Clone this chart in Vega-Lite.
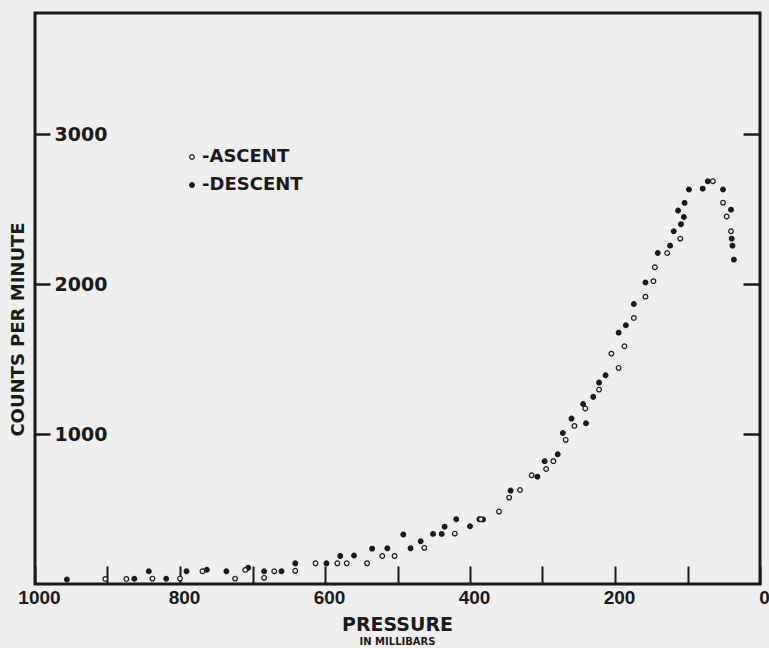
{
  "$schema": "https://vega.github.io/schema/vega-lite/v6.json",
  "width": 725,
  "height": 571,
  "autosize": {"type": "none"},
  "padding": {"left": 35, "top": 13, "right": 9, "bottom": 64},
  "background": "#efefef",
  "config": {
    "view": {"stroke": "#1a1a1a", "strokeWidth": 3},
    "axis": {"grid": false, "domain": false, "ticks": true}
  },
  "title": {
    "text": "PRESSURE",
    "subtitle": "IN MILLIBARS",
    "orient": "bottom",
    "anchor": "middle",
    "font": "DejaVu Sans",
    "fontSize": 19,
    "fontWeight": "bold",
    "color": "#1a1a1a",
    "subtitleFont": "DejaVu Sans",
    "subtitleFontSize": 10,
    "subtitleFontWeight": "bold",
    "subtitleColor": "#1a1a1a",
    "subtitlePadding": 2,
    "offset": 9
  },
  "data": {
    "values": [
      {"pressure": 956, "counts": 30, "phase": "DESCENT"},
      {"pressure": 863, "counts": 35, "phase": "DESCENT"},
      {"pressure": 843, "counts": 85, "phase": "DESCENT"},
      {"pressure": 819, "counts": 35, "phase": "DESCENT"},
      {"pressure": 791, "counts": 85, "phase": "DESCENT"},
      {"pressure": 763, "counts": 95, "phase": "DESCENT"},
      {"pressure": 736, "counts": 85, "phase": "DESCENT"},
      {"pressure": 706, "counts": 108, "phase": "DESCENT"},
      {"pressure": 684, "counts": 85, "phase": "DESCENT"},
      {"pressure": 660, "counts": 85, "phase": "DESCENT"},
      {"pressure": 641, "counts": 138, "phase": "DESCENT"},
      {"pressure": 598, "counts": 138, "phase": "DESCENT"},
      {"pressure": 579, "counts": 187, "phase": "DESCENT"},
      {"pressure": 560, "counts": 190, "phase": "DESCENT"},
      {"pressure": 535, "counts": 236, "phase": "DESCENT"},
      {"pressure": 514, "counts": 238, "phase": "DESCENT"},
      {"pressure": 492, "counts": 330, "phase": "DESCENT"},
      {"pressure": 482, "counts": 238, "phase": "DESCENT"},
      {"pressure": 468, "counts": 285, "phase": "DESCENT"},
      {"pressure": 451, "counts": 334, "phase": "DESCENT"},
      {"pressure": 439, "counts": 334, "phase": "DESCENT"},
      {"pressure": 435, "counts": 382, "phase": "DESCENT"},
      {"pressure": 419, "counts": 432, "phase": "DESCENT"},
      {"pressure": 400, "counts": 385, "phase": "DESCENT"},
      {"pressure": 387, "counts": 432, "phase": "DESCENT"},
      {"pressure": 382, "counts": 430, "phase": "DESCENT"},
      {"pressure": 344, "counts": 623, "phase": "DESCENT"},
      {"pressure": 307, "counts": 716, "phase": "DESCENT"},
      {"pressure": 297, "counts": 819, "phase": "DESCENT"},
      {"pressure": 279, "counts": 865, "phase": "DESCENT"},
      {"pressure": 272, "counts": 1007, "phase": "DESCENT"},
      {"pressure": 260, "counts": 1103, "phase": "DESCENT"},
      {"pressure": 244, "counts": 1200, "phase": "DESCENT"},
      {"pressure": 240, "counts": 1072, "phase": "DESCENT"},
      {"pressure": 230, "counts": 1248, "phase": "DESCENT"},
      {"pressure": 222, "counts": 1343, "phase": "DESCENT"},
      {"pressure": 213, "counts": 1392, "phase": "DESCENT"},
      {"pressure": 195, "counts": 1676, "phase": "DESCENT"},
      {"pressure": 185, "counts": 1725, "phase": "DESCENT"},
      {"pressure": 174, "counts": 1867, "phase": "DESCENT"},
      {"pressure": 158, "counts": 2010, "phase": "DESCENT"},
      {"pressure": 141, "counts": 2207, "phase": "DESCENT"},
      {"pressure": 124, "counts": 2256, "phase": "DESCENT"},
      {"pressure": 119, "counts": 2352, "phase": "DESCENT"},
      {"pressure": 113, "counts": 2490, "phase": "DESCENT"},
      {"pressure": 109, "counts": 2399, "phase": "DESCENT"},
      {"pressure": 105, "counts": 2447, "phase": "DESCENT"},
      {"pressure": 104, "counts": 2541, "phase": "DESCENT"},
      {"pressure": 98, "counts": 2630, "phase": "DESCENT"},
      {"pressure": 79, "counts": 2636, "phase": "DESCENT"},
      {"pressure": 72, "counts": 2685, "phase": "DESCENT"},
      {"pressure": 51, "counts": 2630, "phase": "DESCENT"},
      {"pressure": 40, "counts": 2496, "phase": "DESCENT"},
      {"pressure": 39, "counts": 2303, "phase": "DESCENT"},
      {"pressure": 38, "counts": 2256, "phase": "DESCENT"},
      {"pressure": 36, "counts": 2163, "phase": "DESCENT"},
      {"pressure": 903, "counts": 34, "phase": "ASCENT"},
      {"pressure": 874, "counts": 34, "phase": "ASCENT"},
      {"pressure": 838, "counts": 36, "phase": "ASCENT"},
      {"pressure": 800, "counts": 36, "phase": "ASCENT"},
      {"pressure": 769, "counts": 85, "phase": "ASCENT"},
      {"pressure": 724, "counts": 36, "phase": "ASCENT"},
      {"pressure": 710, "counts": 94, "phase": "ASCENT"},
      {"pressure": 684, "counts": 41, "phase": "ASCENT"},
      {"pressure": 670, "counts": 85, "phase": "ASCENT"},
      {"pressure": 641, "counts": 88, "phase": "ASCENT"},
      {"pressure": 613, "counts": 138, "phase": "ASCENT"},
      {"pressure": 583, "counts": 138, "phase": "ASCENT"},
      {"pressure": 570, "counts": 138, "phase": "ASCENT"},
      {"pressure": 542, "counts": 138, "phase": "ASCENT"},
      {"pressure": 521, "counts": 187, "phase": "ASCENT"},
      {"pressure": 504, "counts": 187, "phase": "ASCENT"},
      {"pressure": 463, "counts": 241, "phase": "ASCENT"},
      {"pressure": 421, "counts": 336, "phase": "ASCENT"},
      {"pressure": 385, "counts": 432, "phase": "ASCENT"},
      {"pressure": 360, "counts": 483, "phase": "ASCENT"},
      {"pressure": 346, "counts": 576, "phase": "ASCENT"},
      {"pressure": 331, "counts": 627, "phase": "ASCENT"},
      {"pressure": 315, "counts": 725, "phase": "ASCENT"},
      {"pressure": 295, "counts": 767, "phase": "ASCENT"},
      {"pressure": 285, "counts": 819, "phase": "ASCENT"},
      {"pressure": 268, "counts": 961, "phase": "ASCENT"},
      {"pressure": 256, "counts": 1054, "phase": "ASCENT"},
      {"pressure": 241, "counts": 1170, "phase": "ASCENT"},
      {"pressure": 222, "counts": 1296, "phase": "ASCENT"},
      {"pressure": 195, "counts": 1441, "phase": "ASCENT"},
      {"pressure": 205, "counts": 1536, "phase": "ASCENT"},
      {"pressure": 187, "counts": 1585, "phase": "ASCENT"},
      {"pressure": 174, "counts": 1774, "phase": "ASCENT"},
      {"pressure": 158, "counts": 1916, "phase": "ASCENT"},
      {"pressure": 147, "counts": 2019, "phase": "ASCENT"},
      {"pressure": 145, "counts": 2112, "phase": "ASCENT"},
      {"pressure": 128, "counts": 2207, "phase": "ASCENT"},
      {"pressure": 110, "counts": 2303, "phase": "ASCENT"},
      {"pressure": 65, "counts": 2685, "phase": "ASCENT"},
      {"pressure": 51, "counts": 2543, "phase": "ASCENT"},
      {"pressure": 46, "counts": 2450, "phase": "ASCENT"},
      {"pressure": 40, "counts": 2352, "phase": "ASCENT"}
    ]
  },
  "layer": [
    {
      "mark": {"type": "point", "stroke": "#1a1a1a", "strokeWidth": 1.2, "size": 22, "opacity": 1},
      "encoding": {
        "x": {
          "field": "pressure",
          "type": "quantitative",
          "scale": {"domain": [0, 1000], "reverse": true, "nice": false},
          "axis": {
            "orient": "bottom",
            "values": [0, 100, 200, 300, 400, 500, 600, 700, 800, 900, 1000],
            "labelExpr": "datum.value % 200 == 0 ? datum.label : ''",
            "format": "d",
            "ticks": true,
            "tickSize": -18,
            "tickWidth": 2,
            "tickColor": "#1a1a1a",
            "labelPadding": 22,
            "labelOffset": 4,
            "labelFont": "Liberation Sans",
            "labelFontSize": 19,
            "labelFontWeight": "bold",
            "labelColor": "#1a1a1a",
            "labelFlush": false,
            "labelOverlap": false,
            "title": null
          }
        },
        "y": {
          "field": "counts",
          "type": "quantitative",
          "scale": {"domain": [0, 3807], "nice": false},
          "axis": {
            "orient": "left",
            "values": [1000, 2000, 3000],
            "format": "d",
            "ticks": true,
            "tickSize": -15,
            "tickWidth": 2.5,
            "tickColor": "#1a1a1a",
            "labelAlign": "left",
            "labelBaseline": "middle",
            "labelPadding": -4,
            "labelFont": "DejaVu Sans",
            "labelFontSize": 19,
            "labelFontWeight": "bold",
            "labelColor": "#1a1a1a",
            "title": "COUNTS PER MINUTE",
            "titleFont": "DejaVu Sans",
            "titleFontSize": 18,
            "titleFontWeight": "bold",
            "titleColor": "#1a1a1a",
            "titleX": -17,
            "titleY": 316,
            "titleAngle": -90,
            "titleAlign": "center",
            "titleBaseline": "middle"
          }
        },
        "fill": {
          "field": "phase",
          "type": "nominal",
          "scale": {"domain": ["ASCENT", "DESCENT"], "range": ["#efefef", "#1a1a1a"]},
          "legend": {
            "orient": "none",
            "legendX": 148,
            "legendY": 135,
            "title": null,
            "padding": 0,
            "labelExpr": "'-' + datum.label",
            "labelFont": "DejaVu Sans",
            "labelFontSize": 18,
            "labelFontWeight": "bold",
            "labelColor": "#1a1a1a",
            "labelOffset": 1,
            "rowPadding": 10,
            "symbolType": "circle",
            "symbolSize": 22,
            "symbolStrokeColor": "#1a1a1a",
            "symbolStrokeWidth": 1.2
          }
        }
      }
    },
    {
      "mark": {"type": "point", "opacity": 0},
      "encoding": {
        "y": {
          "field": "counts",
          "type": "quantitative",
          "axis": {
            "orient": "right",
            "values": [1000, 2000, 3000],
            "ticks": true,
            "tickSize": -17,
            "tickWidth": 2.5,
            "tickColor": "#1a1a1a",
            "labels": false,
            "title": null
          }
        }
      }
    }
  ],
  "resolve": {"axis": {"y": "independent"}}
}
